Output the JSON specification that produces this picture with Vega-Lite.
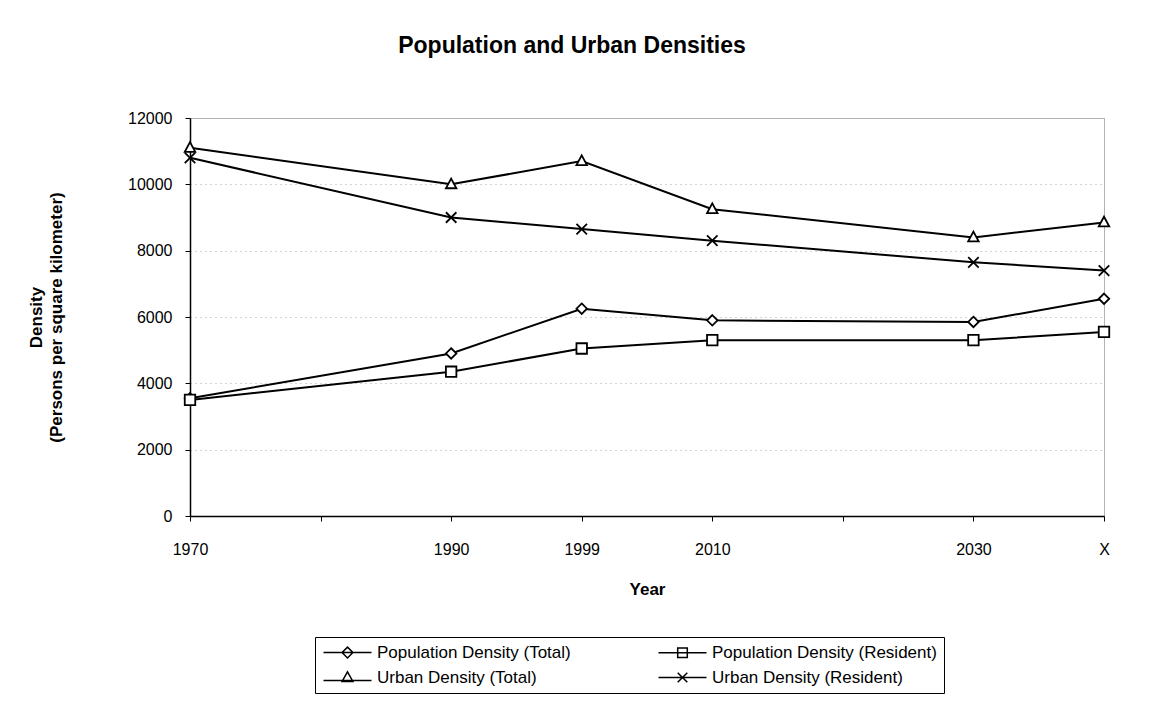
{
  "$schema": "https://vega.github.io/schema/vega-lite/v6.json",
  "width": 914,
  "height": 398,
  "autosize": {"type": "none"},
  "padding": {"left": 190, "top": 118, "right": 48, "bottom": 191},
  "background": "white",
  "title": {
    "text": "Population and Urban Densities",
    "font": "Liberation Sans",
    "fontSize": 23,
    "fontWeight": "bold",
    "color": "black",
    "anchor": "middle",
    "dx": -75,
    "offset": 52
  },
  "data": {
    "values": [
      {"year": "1970", "series": "Population Density (Total)", "density": 3550},
      {"year": "1990", "series": "Population Density (Total)", "density": 4900},
      {"year": "1999", "series": "Population Density (Total)", "density": 6250},
      {"year": "2010", "series": "Population Density (Total)", "density": 5900},
      {"year": "2030", "series": "Population Density (Total)", "density": 5850},
      {"year": "X", "series": "Population Density (Total)", "density": 6550},
      {"year": "1970", "series": "Population Density (Resident)", "density": 3500},
      {"year": "1990", "series": "Population Density (Resident)", "density": 4350},
      {"year": "1999", "series": "Population Density (Resident)", "density": 5050},
      {"year": "2010", "series": "Population Density (Resident)", "density": 5300},
      {"year": "2030", "series": "Population Density (Resident)", "density": 5300},
      {"year": "X", "series": "Population Density (Resident)", "density": 5550},
      {"year": "1970", "series": "Urban Density (Total)", "density": 11100},
      {"year": "1990", "series": "Urban Density (Total)", "density": 10000},
      {"year": "1999", "series": "Urban Density (Total)", "density": 10700},
      {"year": "2010", "series": "Urban Density (Total)", "density": 9250},
      {"year": "2030", "series": "Urban Density (Total)", "density": 8400},
      {"year": "X", "series": "Urban Density (Total)", "density": 8850},
      {"year": "1970", "series": "Urban Density (Resident)", "density": 10800},
      {"year": "1990", "series": "Urban Density (Resident)", "density": 9000},
      {"year": "1999", "series": "Urban Density (Resident)", "density": 8650},
      {"year": "2010", "series": "Urban Density (Resident)", "density": 8300},
      {"year": "2030", "series": "Urban Density (Resident)", "density": 7650},
      {"year": "X", "series": "Urban Density (Resident)", "density": 7400}
    ]
  },
  "encoding": {
    "x": {
      "field": "year",
      "type": "ordinal",
      "scale": {"type": "point", "padding": 0, "domain": ["1970", "1980", "1990", "1999", "2010", "2020", "2030", "X"]},
      "axis": {
        "title": "Year",
        "labelAngle": 0,
        "labelExpr": "datum.label == '1980' || datum.label == '2020' ? '' : datum.label",
        "labelPadding": 20,
        "titlePadding": 24,
        "grid": false
      }
    },
    "y": {
      "field": "density",
      "type": "quantitative",
      "scale": {"domain": [0, 12000], "nice": false},
      "axis": {
        "title": ["Density", "(Persons per square kilometer)"],
        "values": [0, 2000, 4000, 6000, 8000, 10000, 12000],
        "format": "d",
        "labelPadding": 13,
        "titlePadding": 62,
        "grid": true
      }
    }
  },
  "layer": [
    {
      "mark": {"type": "line", "color": "black", "strokeWidth": 2},
      "encoding": {"detail": {"field": "series"}}
    },
    {
      "mark": {"type": "point", "filled": false, "fill": "white", "color": "black", "strokeWidth": 1.8, "size": 110, "opacity": 1},
      "encoding": {
        "shape": {
          "field": "series",
          "type": "nominal",
          "scale": {
            "domain": ["Population Density (Total)", "Population Density (Resident)", "Urban Density (Total)", "Urban Density (Resident)"],
            "range": ["M0,-1L1,0L0,1L-1,0Z", "M-1,-1H1V1H-1Z", "M0,-1.1L1,0.75H-1Z", "M-1,-1L1,1M-1,1L1,-1"]
          },
          "legend": null
        }
      }
    },
    {
      "transform": [{"filter": "false"}],
      "mark": {"type": "point", "filled": false, "color": "black", "strokeWidth": 1.5, "opacity": 1},
      "encoding": {
        "shape": {
          "field": "series",
          "type": "nominal",
          "scale": {
            "domain": ["Population Density (Total)", "Population Density (Resident)", "Urban Density (Total)", "Urban Density (Resident)"],
            "range": ["M-4,0H4M0,-0.9L0.9,0L0,0.9L-0.9,0Z", "M-4,0H4M-0.8,-0.8H0.8V0.8H-0.8Z", "M-4,0.5H4M0,-0.95L0.9,0.65H-0.9Z", "M-4,0H4M-0.8,-0.8L0.8,0.8M-0.8,0.8L0.8,-0.8"]
          },
          "legend": {
            "title": null,
            "orient": "none",
            "legendX": 125,
            "legendY": 519,
            "columns": 2,
            "direction": "horizontal",
            "strokeColor": "black",
            "padding": 7,
            "columnPadding": 84,
            "rowPadding": 7,
            "labelFont": "Liberation Sans",
            "labelFontSize": 17,
            "labelColor": "black",
            "labelLimit": 400,
            "symbolSize": 144,
            "symbolOffset": 17,
            "labelOffset": 21,
            "symbolStrokeWidth": 1.5
          }
        }
      }
    }
  ],
  "resolve": {"scale": {"shape": "independent"}, "legend": {"shape": "independent"}},
  "config": {
    "view": {"stroke": "#666666", "strokeDash": [1, 1], "strokeWidth": 1},
    "font": "Liberation Sans",
    "axis": {
      "labelFont": "Liberation Sans",
      "labelFontSize": 16,
      "labelColor": "black",
      "titleFont": "Liberation Sans",
      "titleFontSize": 17,
      "titleFontWeight": "bold",
      "titleColor": "black",
      "titleLineHeight": 20,
      "domainColor": "black",
      "domainWidth": 1.5,
      "tickColor": "black",
      "tickSize": 5,
      "tickWidth": 1,
      "gridColor": "#aaaaaa",
      "gridDash": [1, 4],
      "gridWidth": 1
    }
  }
}
